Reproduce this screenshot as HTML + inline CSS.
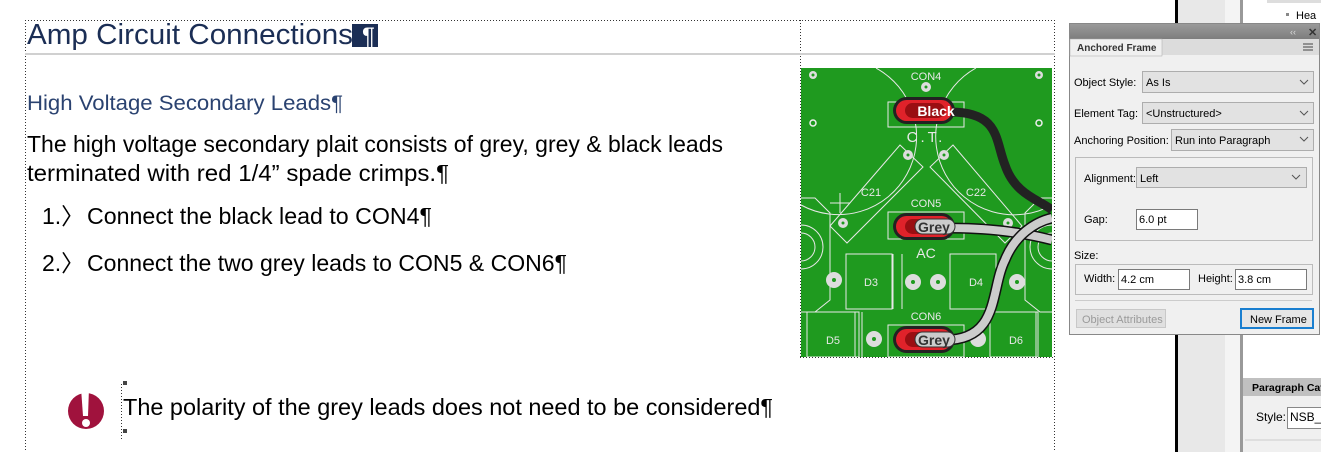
<!DOCTYPE html>
<html><head><meta charset="utf-8"><style>
html,body{margin:0;padding:0;background:#fff;width:1321px;height:452px;overflow:hidden}
svg{display:block}
.t{font-family:"Liberation Sans",sans-serif}
.ui{font-family:"Liberation Sans",sans-serif;font-size:11px}
</style></head><body>
<svg width="1321" height="452" viewBox="0 0 1321 452" xmlns="http://www.w3.org/2000/svg">
<defs>
<linearGradient id="tb" x1="0" y1="0" x2="0" y2="1"><stop offset="0" stop-color="#9a9a9a"/><stop offset="1" stop-color="#7d7d7d"/></linearGradient>
<clipPath id="pcb"><rect x="801" y="68" width="251" height="289"/></clipPath>
</defs>
<!-- right background -->
<rect x="1175" y="0" width="3" height="452" fill="#000"/>
<rect x="1178" y="0" width="47" height="452" fill="#e8e8e8"/>
<rect x="1225" y="0" width="15" height="452" fill="#f4f4f4"/>
<rect x="1240" y="0" width="3" height="452" fill="#999"/>
<rect x="1267" y="0" width="54" height="3" fill="#ddd"/>
<rect x="1286" y="13" width="3" height="3" fill="#888"/>
<text x="1296" y="19" class="ui" font-size="13">Hea</text>
<rect x="1243" y="378" width="78" height="18" fill="#c0c0c0"/>
<text x="1252" y="391" class="ui" font-weight="bold" style="font-size:10.5px">Paragraph Cata</text>
<rect x="1243" y="396" width="78" height="56" fill="#f0f0f0"/>
<text x="1256" y="421" class="ui" style="font-size:12px">Style:</text>
<rect x="1287.5" y="407.5" width="40" height="21" fill="#fff" stroke="#888"/>
<text x="1290" y="421" class="ui" style="font-size:12px">NSB_N</text>
<line x1="1245" y1="440" x2="1321" y2="440" stroke="#ccc"/>

<!-- dotted frames -->
<g stroke="#333" stroke-width="1" stroke-dasharray="1,2" fill="none">
<line x1="25.5" y1="20" x2="25.5" y2="452"/>
<line x1="25" y1="20.5" x2="1055" y2="20.5"/>
<line x1="1054.5" y1="20" x2="1054.5" y2="452"/>
<line x1="800.5" y1="20" x2="800.5" y2="358"/>
<line x1="800" y1="357.5" x2="1055" y2="357.5"/>
<line x1="121.5" y1="384" x2="121.5" y2="440"/>
</g>
<rect x="25" y="53" width="1030" height="2" fill="#d0d0d0"/>

<!-- text -->
<text x="27" y="44" class="t" font-size="29" fill="#1b2e55" textLength="326" lengthAdjust="spacingAndGlyphs">Amp Circuit Connections</text>
<rect x="352" y="24" width="26" height="23" fill="#1b2e55"/>
<text x="362" y="44" class="t" font-size="24" fill="#fff">¶</text>
<text x="27" y="110" class="t" font-size="21" fill="#2a4270" textLength="316" lengthAdjust="spacingAndGlyphs">High Voltage Secondary Leads¶</text>
<text x="27" y="152" class="t" font-size="23" fill="#000" textLength="696" lengthAdjust="spacingAndGlyphs">The high voltage secondary plait consists of grey, grey &amp; black leads</text>
<text x="27" y="181" class="t" font-size="23" fill="#000" textLength="422" lengthAdjust="spacingAndGlyphs">terminated with red 1/4” spade crimps.¶</text>
<text x="42" y="224" class="t" font-size="23" fill="#000">1.〉</text>
<text x="87" y="224" class="t" font-size="23" fill="#000" textLength="345" lengthAdjust="spacingAndGlyphs">Connect the black lead to CON4¶</text>
<text x="42" y="271" class="t" font-size="23" fill="#000">2.〉</text>
<text x="87" y="271" class="t" font-size="23" fill="#000" textLength="480" lengthAdjust="spacingAndGlyphs">Connect the two grey leads to CON5 &amp; CON6¶</text>
<text x="123" y="415" class="t" font-size="23" fill="#000" textLength="650" lengthAdjust="spacingAndGlyphs">The polarity of the grey leads does not need to be considered¶</text>
<rect x="123" y="381" width="4" height="4" fill="#444"/>
<rect x="123" y="429" width="4" height="4" fill="#444"/>
<!-- warning icon -->
<circle cx="86" cy="411" r="18" fill="#a0123d"/>
<path d="M81 388 L89 388 L88 416 L83 416 Z" fill="#fff"/>
<circle cx="86" cy="423" r="4" fill="#fff"/>

<!-- PCB -->
<g clip-path="url(#pcb)">
<rect x="801" y="68" width="251" height="289" fill="#1f9a1f"/>
<g stroke="#e8e8e8" stroke-width="1" fill="none">
<path d="M876 68 A70 70 0 0 1 801 205"/>
<path d="M976 68 A70 70 0 0 0 1052 205"/>
<rect x="888" y="102" width="76" height="25"/>
<path d="M900 145 L923 167 L847 243 L830 226 Z" />
<path d="M953 145 L930 167 L1005 243 L1022 226 Z" />
<rect x="888" y="212" width="76" height="27"/>
<rect x="888" y="325" width="76" height="32"/>
<rect x="846" y="254" width="46" height="55"/>
<line x1="893" y1="254" x2="893" y2="309"/><line x1="902" y1="254" x2="902" y2="309"/>
<rect x="950" y="254" width="46" height="55"/>
<rect x="807" y="312" width="52" height="45"/><line x1="855" y1="312" x2="855" y2="357"/><line x1="862" y1="312" x2="862" y2="357"/>
<rect x="990" y="312" width="48" height="45"/><line x1="1036" y1="312" x2="1036" y2="357"/>
<path d="M801 198 L815 198 L830 213 L830 300 L815 312 L801 312"/>
<path d="M1052 198 L1040 198 L1025 213 L1025 300 L1040 312 L1052 312"/>
<circle cx="801" cy="247" r="22"/><circle cx="801" cy="247" r="14"/>
<circle cx="1052" cy="247" r="22"/><circle cx="1052" cy="247" r="14"/>
<line x1="840" y1="193" x2="840" y2="213"/><line x1="830" y1="203" x2="850" y2="203"/>
</g>
<g fill="#ddd">
<circle cx="813" cy="75" r="4"/><circle cx="1039" cy="75" r="4"/>
<circle cx="926" cy="87" r="5"/>
<circle cx="908" cy="155" r="5"/><circle cx="944" cy="155" r="5"/>
<circle cx="843" cy="223" r="5"/><circle cx="1008" cy="223" r="5"/>
<circle cx="834" cy="280" r="8"/><circle cx="913" cy="282" r="8"/><circle cx="938" cy="282" r="8"/><circle cx="1017" cy="282" r="8"/>
<circle cx="874" cy="339" r="8"/><circle cx="978" cy="339" r="8"/>
</g>
<g fill="#1f9a1f">
<circle cx="813" cy="75" r="1.5"/><circle cx="1039" cy="75" r="1.5"/><circle cx="926" cy="87" r="1.5"/>
<circle cx="908" cy="155" r="1.5"/><circle cx="944" cy="155" r="1.5"/><circle cx="843" cy="223" r="1.5"/><circle cx="1008" cy="223" r="1.5"/>
<circle cx="834" cy="280" r="2"/><circle cx="913" cy="282" r="2"/><circle cx="938" cy="282" r="2"/><circle cx="1017" cy="282" r="2"/><circle cx="874" cy="339" r="2"/>
</g>
<g fill="none" stroke="#eee" stroke-width="1.5"><circle cx="813" cy="123" r="3"/><circle cx="1039" cy="123" r="3"/></g>
<g class="t" fill="#e8e8e8" font-size="11" text-anchor="middle">
<text x="926" y="80">CON4</text><text x="926" y="207">CON5</text><text x="926" y="320">CON6</text>
<text x="926" y="142" font-size="15" letter-spacing="3">C.T.</text>
<text x="926" y="258" font-size="14">AC</text>
<text x="871" y="196">C21</text><text x="976" y="196">C22</text>
<text x="871" y="286">D3</text><text x="976" y="286">D4</text>
<text x="833" y="344">D5</text><text x="1016" y="344">D6</text>
</g>
<!-- wires -->
<path d="M950 112 C1000 112 995 140 1005 165 C1015 195 1040 200 1052 210" fill="none" stroke="#222" stroke-width="9"/>
<path d="M945 228 C990 228 1020 232 1052 240" fill="none" stroke="#111" stroke-width="11"/>
<path d="M945 228 C990 228 1020 232 1052 240" fill="none" stroke="#ccc" stroke-width="8"/>
<path d="M945 340 C1000 340 990 290 1005 260 C1015 235 1035 222 1052 218" fill="none" stroke="#111" stroke-width="11"/>
<path d="M945 340 C1000 340 990 290 1005 260 C1015 235 1035 222 1052 218" fill="none" stroke="#ccc" stroke-width="8"/>
<!-- spade crimps -->
<rect x="893" y="97" width="62" height="27" rx="13.5" fill="#222"/>
<rect x="896" y="100" width="56" height="21" rx="10.5" fill="#e0222a"/>
<rect x="905" y="103" width="40" height="15" rx="7.5" fill="#9a0e12"/>
<text x="936" y="116" class="t" font-size="14" font-weight="bold" fill="#fff" text-anchor="middle">Black</text>
<rect x="893" y="213" width="62" height="27" rx="13.5" fill="#222"/>
<rect x="896" y="216" width="56" height="21" rx="10.5" fill="#e0222a"/>
<rect x="905" y="219" width="40" height="15" rx="7.5" fill="#9a0e12"/>
<rect x="915" y="219" width="40" height="15" rx="7.5" fill="#ccc" stroke="#333"/>
<text x="934" y="232" class="t" font-size="14" font-weight="bold" fill="#333" text-anchor="middle">Grey</text>
<rect x="893" y="326" width="62" height="27" rx="13.5" fill="#222"/>
<rect x="896" y="329" width="56" height="21" rx="10.5" fill="#e0222a"/>
<rect x="905" y="332" width="40" height="15" rx="7.5" fill="#9a0e12"/>
<rect x="915" y="332" width="40" height="15" rx="7.5" fill="#ccc" stroke="#333"/>
<text x="934" y="345" class="t" font-size="14" font-weight="bold" fill="#333" text-anchor="middle">Grey</text>
</g>

<!-- Anchored Frame panel -->
<rect x="1069.5" y="23.5" width="250" height="311" fill="#f0f0f0" stroke="#888"/>
<rect x="1070" y="24" width="249" height="15" fill="url(#tb)"/>
<text x="1290" y="35" class="ui" style="font-size:9px;fill:#ddd">‹‹</text>
<text x="1308" y="36" class="ui" font-weight="bold" style="fill:#333">✕</text>
<rect x="1070" y="39" width="249" height="16" fill="#dcdcdc"/>
<rect x="1070" y="39" width="92" height="17" fill="#f0f0f0" stroke="#aaa" stroke-width="0.5"/>
<text x="1077" y="51" class="ui" font-weight="bold" style="font-size:10px;fill:#333">Anchored Frame</text>
<g stroke="#444"><line x1="1303" y1="44" x2="1313" y2="44"/><line x1="1303" y1="47" x2="1313" y2="47"/><line x1="1303" y1="50" x2="1313" y2="50"/></g>
<g fill="#e2e2e2" stroke="#adadad">
<rect x="1142.5" y="71.5" width="171" height="21"/>
<rect x="1142.5" y="102.5" width="171" height="21"/>
<rect x="1171.5" y="129.5" width="142" height="21"/>
<rect x="1136.5" y="167.5" width="170" height="20"/>
</g>
<g fill="none" stroke="#555"><path d="M1300 80 l4 4 l4 -4"/><path d="M1300 111 l4 4 l4 -4"/><path d="M1300 137 l4 4 l4 -4"/><path d="M1292 175 l4 4 l4 -4"/></g>
<text x="1074" y="86" class="ui">Object Style:</text><text x="1146" y="86" class="ui">As Is</text>
<text x="1074" y="117" class="ui">Element Tag:</text><text x="1146" y="117" class="ui">&lt;Unstructured&gt;</text>
<text x="1074" y="144" class="ui">Anchoring Position:</text><text x="1175" y="144" class="ui">Run into Paragraph</text>
<rect x="1075.5" y="157.5" width="237" height="83" fill="none" stroke="#bbb"/>
<text x="1084" y="182" class="ui">Alignment:</text><text x="1140" y="182" class="ui">Left</text>
<text x="1084" y="223" class="ui">Gap:</text>
<rect x="1136.5" y="209.5" width="61" height="20" fill="#fff" stroke="#7a7a7a"/>
<text x="1139" y="223" class="ui">6.0 pt</text>
<text x="1074" y="259" class="ui">Size:</text>
<rect x="1075.5" y="264.5" width="237" height="30" fill="none" stroke="#bbb"/>
<text x="1084" y="282" class="ui">Width:</text>
<rect x="1118.5" y="269.5" width="71" height="20" fill="#fff" stroke="#7a7a7a"/>
<text x="1121" y="283" class="ui">4.2 cm</text>
<text x="1198" y="282" class="ui">Height:</text>
<rect x="1235.5" y="269.5" width="71" height="20" fill="#fff" stroke="#7a7a7a"/>
<text x="1238" y="283" class="ui">3.8 cm</text>
<line x1="1075" y1="300.5" x2="1312" y2="300.5" stroke="#ccc"/>
<rect x="1076.5" y="309.5" width="89" height="18" fill="#e0e0e0" stroke="#c8c8c8"/>
<text x="1082" y="323" class="ui" style="fill:#9a9a9a">Object Attributes</text>
<rect x="1241" y="309" width="72" height="19" fill="#e6e6e6" stroke="#1a7fd0" stroke-width="2"/>
<text x="1250" y="323" class="ui">New Frame</text>
</svg>
</body></html>
